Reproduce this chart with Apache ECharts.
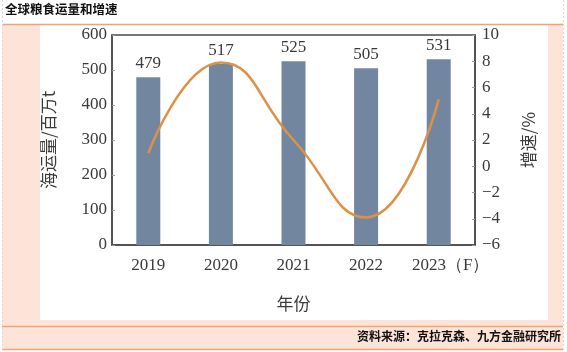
<!DOCTYPE html>
<html><head><meta charset="utf-8">
<script src="https://cdn.jsdelivr.net/npm/echarts@6/dist/echarts.min.js"></script>
<style>html,body{margin:0;padding:0;background:#fff}#c{width:567px;height:352px}</style>
</head><body><div id="c"></div>
<script>
const categories = ['2019', '2020', '2021', '2022', '2023（F）'];
const volume = [479, 517, 525, 505, 531];
const growth = [1.0, 7.9, 2.0, -3.9, 5.1];
const leftTicks = {min: 0, max: 600, interval: 100};
const rightTicks = {min: -6, max: 10, interval: 2};

const chart = echarts.init(document.getElementById('c'), null, {renderer: 'canvas'});
const serif = '"Liberation Serif", "DejaVu Serif", serif';
const cjk = '"Noto Sans CJK SC", sans-serif';
const axisColor = '#4a4a4a';
const txt = '#3a3a3a';
const catData = categories.map(c => c.indexOf('（') >= 0
  ? {value: c, textStyle: {padding: [0, 0, 0, 24]}} : c);
chart.setOption({
  backgroundColor: '#fff',
  animation: false,
  graphic: [
    {type: 'rect', shape: {x: 2, y: 25, width: 561, height: 324}, style: {fill: '#fde4d8'}, z: -10, silent: true},
    {type: 'rect', shape: {x: 40, y: 25, width: 508, height: 295}, style: {fill: '#ffffff'}, z: -9, silent: true},
    {type: 'line', shape: {x1: 2, y1: 24.5, x2: 563, y2: 24.5}, style: {stroke: '#eea474', lineWidth: 1.5}, z: -8},
    {type: 'line', shape: {x1: 2, y1: 326.5, x2: 563, y2: 326.5}, style: {stroke: '#eea474', lineWidth: 1.5}, z: -8},
    {type: 'line', shape: {x1: 2, y1: 349.5, x2: 563, y2: 349.5}, style: {stroke: '#eea474', lineWidth: 1.5}, z: -8},
    {type: 'line', shape: {x1: 2.5, y1: 0, x2: 2.5, y2: 352}, style: {stroke: '#d8d8d8', lineWidth: 1, lineDash: [2, 2]}, z: -8},
    {type: 'line', shape: {x1: 563.5, y1: 0, x2: 563.5, y2: 352}, style: {stroke: '#d8d8d8', lineWidth: 1, lineDash: [2, 2]}, z: -8},
    {type: 'text', left: 5, top: 3, style: {text: '全球粮食运量和增速', font: 'bold 12.5px "Noto Sans CJK SC", sans-serif', fill: '#111'}},
    {type: 'text', right: 6, top: 330, style: {text: '资料来源：克拉克森、九方金融研究所', font: 'bold 12px "Noto Sans CJK SC", sans-serif', fill: '#111'}}
  ],
  grid: {left: 112, right: 92, top: 35, bottom: 107, show: true, borderColor: axisColor, borderWidth: 1.5, backgroundColor: 'transparent'},
  xAxis: {
    type: 'category', data: catData, boundaryGap: true,
    name: '年份', nameLocation: 'middle', nameGap: 50,
    nameTextStyle: {fontFamily: cjk, fontSize: 17, color: txt},
    axisLine: {lineStyle: {color: axisColor, width: 1.5}},
    axisTick: {show: false},
    axisLabel: {interval: 0, hideOverlap: false, fontFamily: serif, fontSize: 17, color: txt, margin: 12}
  },
  yAxis: [{
    type: 'value', min: leftTicks.min, max: leftTicks.max, interval: leftTicks.interval,
    name: '海运量/百万t', nameLocation: 'middle', nameGap: 55, nameRotate: 90,
    nameTextStyle: {fontFamily: cjk, fontSize: 17, color: txt},
    axisLine: {show: true, lineStyle: {color: axisColor, width: 1.5}},
    axisTick: {show: true, inside: true, length: 3, lineStyle: {color: '#999'}},
    splitLine: {show: false},
    axisLabel: {fontFamily: serif, fontSize: 17, color: txt, margin: 5}
  }, {
    type: 'value', min: rightTicks.min, max: rightTicks.max, interval: rightTicks.interval,
    position: 'right',
    name: '增速/%', nameLocation: 'middle', nameGap: 45, nameRotate: 90,
    nameTextStyle: {fontFamily: cjk, fontSize: 17, color: txt},
    axisLine: {show: true, lineStyle: {color: axisColor, width: 1.5}},
    axisTick: {show: true, inside: true, length: 3, lineStyle: {color: '#999'}},
    splitLine: {show: false},
    axisLabel: {fontFamily: serif, fontSize: 17, color: txt, margin: 7,
      formatter: v => String(v).replace('-', '−')}
  }],
  series: [{
    type: 'bar', data: volume, barWidth: 24, yAxisIndex: 0,
    itemStyle: {color: '#72879f'},
    label: {show: true, position: 'top', distance: 5, fontFamily: serif, fontSize: 17, color: txt}
  }, {
    type: 'line', data: growth, yAxisIndex: 1, smooth: 0.5, showSymbol: false, symbol: 'none',
    lineStyle: {color: '#dd9147', width: 2.5}, z: 5
  }]
});
</script></body></html>
